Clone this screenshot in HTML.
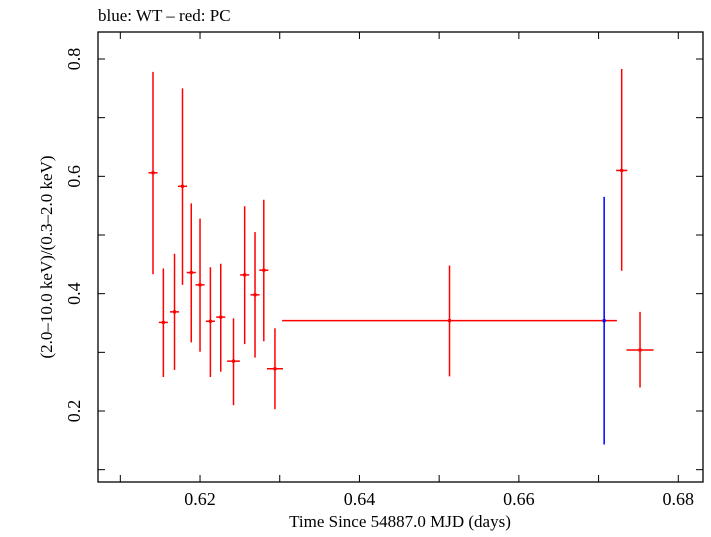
<!DOCTYPE html>
<html><head><meta charset="utf-8"><style>
body{margin:0;background:#fff}
svg text{font-family:"Liberation Serif",serif;fill:#000}
</style></head><body>
<svg id="chart" width="711" height="532" xmlns="http://www.w3.org/2000/svg">
<text x="98" y="21" font-size="17">blue: WT – red: PC</text>
<rect x="98" y="32" width="605" height="450" fill="none" stroke="#000" stroke-width="1.3"/>
<g id="axes"></g>
<g id="marks"></g>
<text x="400" y="527" font-size="17" text-anchor="middle">Time Since 54887.0 MJD (days)</text>
<text transform="translate(52,257) rotate(-90)" font-size="17" text-anchor="middle">(2.0–10.0 keV)/(0.3–2.0 keV)</text>
</svg>
<script>
const xTicks=[0.62,0.64,0.66,0.68];
const xMinor=[0.61,0.62,0.63,0.64,0.65,0.66,0.67,0.68];
const yTicks=[0.2,0.4,0.6,0.8];
const yMinor=[0.1,0.2,0.3,0.4,0.5,0.6,0.7,0.8];
const redX=[0.6141,0.6154,0.6168,0.6178,0.6189,0.6200,0.6213,0.6226,0.6242,0.6256,0.6269,0.6280,0.6294,0.6513,0.6729,0.6752];
const redXErr=[0.00057,0.00057,0.00057,0.00057,0.00057,0.00057,0.00057,0.00057,0.0008,0.00057,0.00057,0.00057,0.001,0.021,0.0007,0.0017];
const redY=[0.606,0.351,0.369,0.583,0.436,0.415,0.353,0.360,0.285,0.432,0.398,0.440,0.272,0.354,0.610,0.304];
const redYHi=[0.778,0.443,0.468,0.750,0.554,0.528,0.445,0.451,0.358,0.549,0.505,0.560,0.341,0.448,0.783,0.369];
const redYLo=[0.433,0.258,0.270,0.415,0.317,0.301,0.258,0.267,0.210,0.314,0.291,0.319,0.203,0.259,0.439,0.240];
const blueX=[0.6707];
const blueY=[0.354];
const blueYHi=[0.565];
const blueYLo=[0.143];
const X0=98,X1=703,Y0=482,Y1=32;
const xMin=0.6072,xMax=0.6831,yMin=0.079,yMax=0.846;
const sx=v=>X0+(v-xMin)/(xMax-xMin)*(X1-X0);
const sy=v=>Y0-(v-yMin)/(yMax-yMin)*(Y0-Y1);
const NS="http://www.w3.org/2000/svg";
function mk(tag,attrs,parent){const e=document.createElementNS(NS,tag);for(const k in attrs)e.setAttribute(k,attrs[k]);parent.appendChild(e);return e;}
const ax=document.getElementById('axes'),mg=document.getElementById('marks');
xMinor.forEach(v=>{const x=sx(v);
 let t=mk('line',{x1:x,x2:x,y1:Y0,y2:Y0-7,stroke:'#000'},ax);
 
 
 t=mk('line',{x1:x,x2:x,y1:Y1,y2:Y1+7,stroke:'#000'},ax);
 
 });
xTicks.forEach(v=>{const t=mk('text',{x:sx(v),y:505,'font-size':18,'text-anchor':'middle'},ax);t.textContent=String(v);
 
 });
yMinor.forEach(v=>{const y=sy(v);
 let t=mk('line',{x1:X0,x2:X0+7,y1:y,y2:y,stroke:'#000'},ax);
 
 
 t=mk('line',{x1:X1,x2:X1-7,y1:y,y2:y,stroke:'#000'},ax);
 
 });
yTicks.forEach(v=>{const y=sy(v);const t=mk('text',{transform:`translate(80,${y}) rotate(-90)`,'font-size':18,'text-anchor':'middle'},ax);t.textContent=String(v);
 
 });
function pts(xs,xe,ys,hi,lo,col,name){
 xs.forEach((x,i)=>{const g=mk('g',{stroke:col,'stroke-width':1.5},mg);
  
  
  mk('line',{x1:sx(x),x2:sx(x),y1:sy(hi[i]),y2:sy(lo[i])},g);
  if(xe[i]>0)mk('line',{x1:sx(x-xe[i]),x2:sx(x+xe[i]),y1:sy(ys[i]),y2:sy(ys[i])},g);
  mk('rect',{x:sx(x)-1.5,y:sy(ys[i])-1.5,width:3,height:3,fill:col,stroke:'none'},g);});
}
pts(redX,redXErr,redY,redYHi,redYLo,'#f00','pc-point');
pts(blueX,[0],blueY,blueYHi,blueYLo,'#00f','wt-point');
</script>
</body></html>
